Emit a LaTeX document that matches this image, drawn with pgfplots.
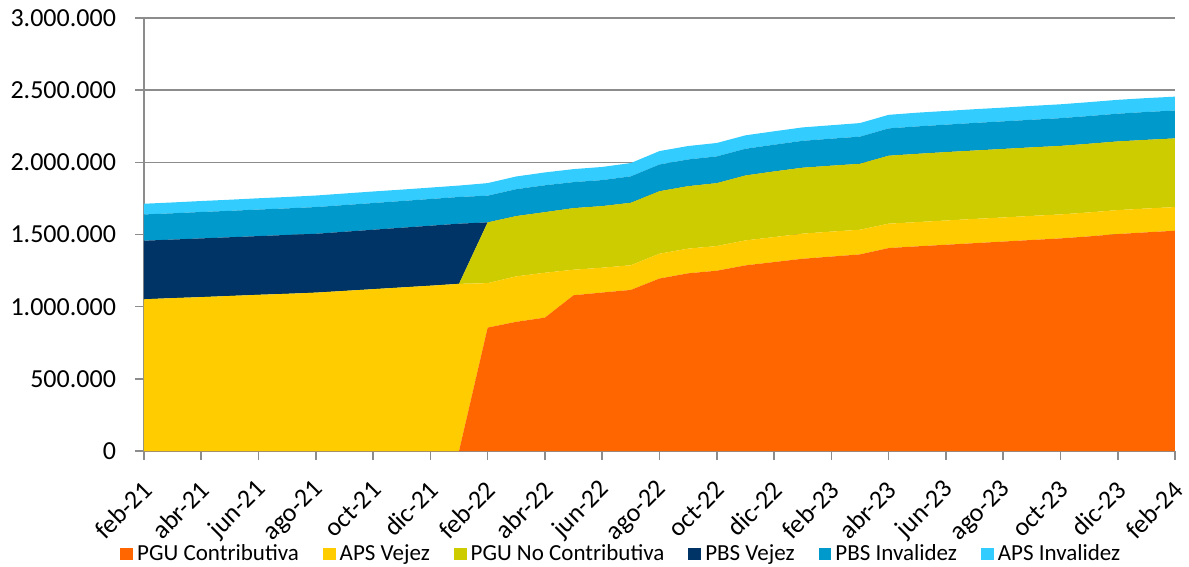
\documentclass[border=0pt]{standalone}
\usepackage{pgfplots}
\pgfplotsset{compat=1.18}
\usepackage{pgfplotstable}
\usepackage{fontspec}
\setmainfont{Carlito}
\definecolor{cPGUC}{HTML}{FF6600}
\definecolor{cAPSV}{HTML}{FFCC00}
\definecolor{cPGUNC}{HTML}{CCCC00}
\definecolor{cPBSV}{HTML}{003366}
\definecolor{cPBSI}{HTML}{0099CC}
\definecolor{cAPSI}{HTML}{33CCFF}
\definecolor{axgray}{HTML}{8C8C8C}

\pgfplotstableread{
i pguc apsv pgunc pbsv pbsi apsi
0 0 1051000 0 406000 182000 74000
1 0 1059000 0 406000 182000 75000
2 0 1066000 0 407000 183000 76000
3 0 1074000 0 407000 183000 77000
4 0 1082000 0 407000 184000 78000
5 0 1089000 0 408000 184000 79000
6 0 1097000 0 408000 185000 80000
7 0 1109000 0 410000 185000 80000
8 0 1121000 0 412000 185000 80000
9 0 1133000 0 414000 185000 79000
10 0 1145000 0 416000 185000 79000
11 0 1158000 0 417000 185000 79000
12 855000 308000 421000 0 185000 87000
13 895000 315000 418000 0 186000 88000
14 924000 311000 420000 0 186000 89000
15 1079000 177000 427000 0 180000 90000
16 1098000 172000 427000 0 180000 91000
17 1116000 171000 433000 0 183000 92000
18 1195000 172000 433000 0 185000 93000
19 1231000 171000 433000 0 185000 93000
20 1249000 171000 436000 0 185000 93000
21 1286000 173000 450000 0 185000 93000
22 1309000 173000 455000 0 185000 93000
23 1332000 174000 457000 0 186000 93000
24 1347000 173000 457000 0 187000 93000
25 1362000 171000 457000 0 188000 94000
26 1406000 169000 471000 0 189000 94000
27 1418000 168000 473000 0 190000 95000
28 1429000 168000 474000 0 190000 95000
29 1440000 168000 474000 0 191000 95000
30 1451000 167000 475000 0 191000 95000
31 1462000 167000 475000 0 191000 96000
32 1473000 166000 475000 0 192000 96000
33 1487000 166000 476000 0 192000 96000
34 1503000 166000 476000 0 192000 96000
35 1515000 165000 476000 0 193000 96000
36 1526000 164000 476000 0 193000 96000
}\datatable

\begin{document}
\begin{tikzpicture}
\useasboundingbox (-72pt,-58pt) rectangle (522.5pt,225.5pt);
\begin{axis}[
  scale only axis,
  width=515.5pt, height=216.5pt,
  at={(0pt,0pt)}, anchor=south west,
  xmin=0, xmax=36, ymin=0, ymax=3000000,
  stack plots=y,
  axis x line*=bottom, axis y line*=left,
  axis line style={axgray, line width=0.8pt},
  tick align=outside,
  major tick length=4.5pt,
  tick style={axgray, line width=0.8pt},
  xtick={0,2,...,36},
  xticklabels={feb-21,abr-21,jun-21,ago-21,oct-21,dic-21,feb-22,abr-22,jun-22,ago-22,oct-22,dic-22,feb-23,abr-23,jun-23,ago-23,oct-23,dic-23,feb-24},
  xticklabel style={xshift=2.5pt, yshift=-12pt, rotate=45, anchor=east, font=\fontsize{13}{15}\selectfont, inner sep=1pt},
  ytick={0,500000,...,3000000},
  scaled y ticks=false,
  yticklabel style={xshift=-6pt, font=\fontsize{13}{15}\selectfont, /pgf/number format/fixed, /pgf/number format/1000 sep={.}},
  /pgf/number format/assume math mode=true,
  ymajorgrids,
  grid style={axgray, line width=0.8pt},
  legend columns=-1,
  legend style={draw=none, fill=none, at={(0.464,-0.238)}, anchor=center,
    font=\fontsize{11.5}{13}\selectfont,
    /tikz/every even column/.append style={column sep=10pt},
    inner sep=0pt},
  legend image code/.code={\fill[#1] (0pt,-3.2pt) rectangle (6.4pt,3.2pt);},
]
\addplot[fill=cPGUC, draw=none] table[x=i, y=pguc] {\datatable} \closedcycle;
\addlegendentry{PGU Contributiva}
\addplot[fill=cAPSV, draw=none] table[x=i, y=apsv] {\datatable} \closedcycle;
\addlegendentry{APS Vejez}
\addplot[fill=cPGUNC, draw=none] table[x=i, y=pgunc] {\datatable} \closedcycle;
\addlegendentry{PGU No Contributiva}
\addplot[fill=cPBSV, draw=none] table[x=i, y=pbsv] {\datatable} \closedcycle;
\addlegendentry{PBS Vejez}
\addplot[fill=cPBSI, draw=none] table[x=i, y=pbsi] {\datatable} \closedcycle;
\addlegendentry{PBS Invalidez}
\addplot[fill=cAPSI, draw=none] table[x=i, y=apsi] {\datatable} \closedcycle;
\addlegendentry{APS Invalidez}
\end{axis}
\end{tikzpicture}
\end{document}
